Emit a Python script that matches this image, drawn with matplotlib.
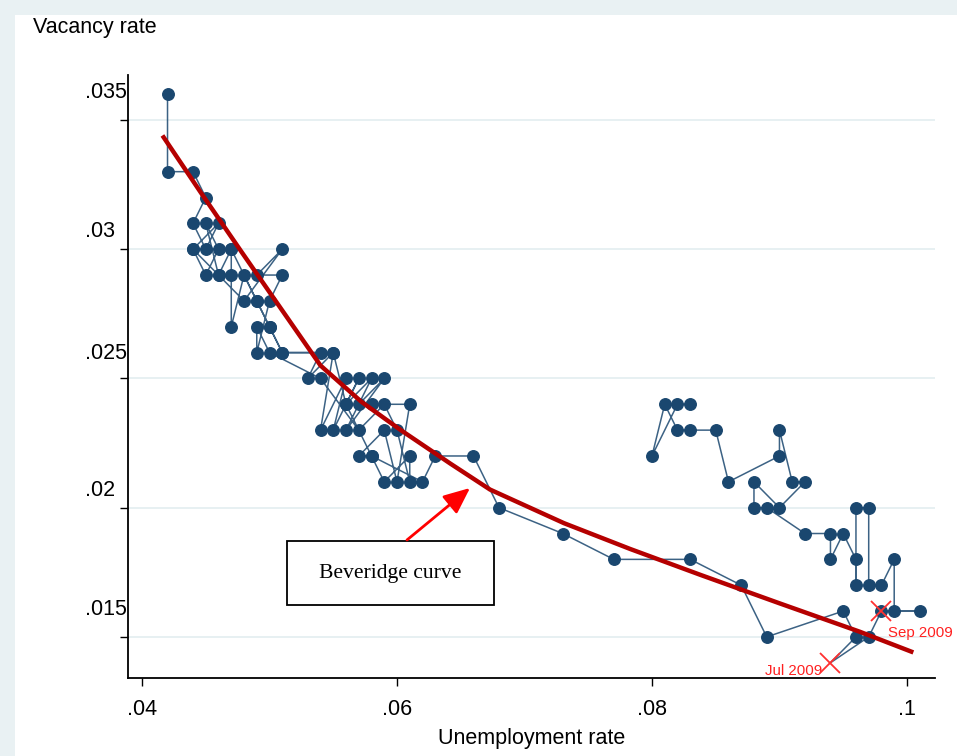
import matplotlib.pyplot as plt
from matplotlib.patches import Rectangle

# monthly unemployment / vacancy rates (path order)
unemp = [0.042, 0.042, 0.044, 0.045, 0.044, 0.045, 0.046, 0.044, 0.045, 0.046,
         0.045, 0.046, 0.047, 0.047, 0.047, 0.048, 0.049, 0.050, 0.051, 0.054,
         0.053, 0.055, 0.054, 0.056, 0.055, 0.057, 0.056, 0.058, 0.056, 0.059,
         0.057, 0.058, 0.061, 0.060, 0.059, 0.057, 0.058, 0.059, 0.061, 0.061,
         0.060, 0.059, 0.057, 0.054, 0.050, 0.049, 0.049, 0.050, 0.051, 0.049,
         0.051, 0.048, 0.046, 0.044, 0.047, 0.049, 0.050, 0.051, 0.055, 0.056,
         0.058, 0.062, 0.063, 0.066, 0.068, 0.073, 0.077, 0.083, 0.087, 0.089,
         0.095, 0.096, 0.094, 0.097, 0.098, 0.101, 0.099, 0.099, 0.098, 0.097,
         0.097, 0.096, 0.096, 0.096, 0.095, 0.094, 0.094, 0.092, 0.089, 0.088,
         0.088, 0.090, 0.092, 0.091, 0.090, 0.090, 0.086, 0.085, 0.083, 0.082,
         0.081, 0.080, 0.082, 0.083]
vacancy = [0.036, 0.033, 0.033, 0.032, 0.031, 0.030, 0.031, 0.030, 0.029, 0.030,
           0.031, 0.029, 0.030, 0.029, 0.027, 0.029, 0.028, 0.027, 0.026, 0.026,
           0.025, 0.026, 0.023, 0.025, 0.023, 0.025, 0.024, 0.025, 0.023, 0.025,
           0.024, 0.024, 0.024, 0.021, 0.023, 0.022, 0.022, 0.021, 0.022, 0.021,
           0.023, 0.024, 0.023, 0.025, 0.026, 0.027, 0.026, 0.028, 0.029, 0.029,
           0.030, 0.028, 0.029, 0.030, 0.030, 0.028, 0.027, 0.026, 0.026, 0.024,
           0.022, 0.021, 0.022, 0.022, 0.020, 0.019, 0.018, 0.018, 0.017, 0.015,
           0.016, 0.015, 0.014, 0.015, 0.016, 0.016, 0.016, 0.018, 0.017, 0.017,
           0.020, 0.020, 0.017, 0.018, 0.019, 0.018, 0.019, 0.019, 0.020, 0.020,
           0.021, 0.020, 0.021, 0.021, 0.023, 0.022, 0.021, 0.023, 0.023, 0.023,
           0.024, 0.022, 0.024, 0.024]

# fitted Beveridge curve
curve_u = [0.0416, 0.0446, 0.0478, 0.0509, 0.0540, 0.0572, 0.0603, 0.0642,
           0.0673, 0.0731, 0.0783, 0.0838, 0.0900, 0.0963, 0.1005]
curve_v = [0.0344, 0.0322, 0.0299, 0.0277, 0.0255, 0.0241, 0.0230, 0.0217,
           0.0207, 0.0194, 0.0184, 0.0174, 0.0163, 0.0152, 0.0144]

# highlighted months
mark_u = [0.094, 0.098]
mark_v = [0.014, 0.016]
mark_labels = ['Jul 2009', 'Sep 2009']

xticks = [0.04, 0.06, 0.08, 0.10]
xticklabels = ['.04', '.06', '.08', '.1']
yticks = [0.015, 0.02, 0.025, 0.03, 0.035]
yticklabels = ['.015', '.02', '.025', '.03', '.035']

navy = '#1a476f'
sans = ['Liberation Sans', 'DejaVu Sans']

fig = plt.figure(figsize=(9.57, 7.56), dpi=100, facecolor='#e9f1f3')
# white panel inside the light frame
fig.patches.append(Rectangle((15 / 957, 0), 1, 741 / 756, transform=fig.transFigure,
                             facecolor='white', edgecolor='none', zorder=-1))

ax = fig.add_axes([128 / 957, 78 / 756, 807 / 957, 603 / 756])
ax.set_facecolor('white')

# connected scatter (the Jul 2009 month is drawn as a cross only)
ax.plot(unemp, vacancy, '-', color=navy, lw=1.1, alpha=0.85, zorder=2)
dots = [(u, v) for u, v in zip(unemp, vacancy) if (u, v) != (mark_u[0], mark_v[0])]
ax.plot([d[0] for d in dots], [d[1] for d in dots], 'o', color=navy, ms=8.3,
        mec=navy, ls='none', zorder=3)

# Beveridge curve
ax.plot(curve_u, curve_v, '-', color='#b50000', lw=3.2, solid_capstyle='butt', zorder=4)

# red crosses with dates
ax.plot(mark_u, mark_v, 'x', color='#ff3030', ms=14, mew=1.3, ls='none', zorder=5)
ax.annotate(mark_labels[0], (mark_u[0], mark_v[0]), xytext=(-6, -6),
            textcoords='offset points', ha='right', va='center',
            color='#ff2020', fontsize=10.8, family=sans)
ax.annotate(mark_labels[1], (mark_u[1], mark_v[1]), xytext=(5, -16),
            textcoords='offset points', ha='left', va='center',
            color='#ff2020', fontsize=10.8, family=sans)

# label box and arrow
ax.add_patch(Rectangle((0.197, 0.121), 0.2565, 0.106, transform=ax.transAxes,
                       facecolor='white', edgecolor='black', lw=1.3, zorder=6))
ax.text(0.3247, 0.174, 'Beveridge curve', transform=ax.transAxes, ha='center',
        va='center', fontsize=15.6, family=['Liberation Serif', 'DejaVu Serif'], zorder=7)
ax.annotate('', xy=(0.4238, 0.3151), xytext=(0.3457, 0.2289),
            xycoords='axes fraction', textcoords='axes fraction',
            arrowprops=dict(arrowstyle='-|>,head_length=1.6,head_width=0.7',
                            color='#ff0000', lw=2, shrinkA=0, shrinkB=0), zorder=7)

ax.set_xlim(0.0389, 0.1022)
ax.set_ylim(0.01341, 0.03674)

ax.set_xticks(xticks)
ax.set_xticklabels(xticklabels, family=sans, fontsize=15.5)
ax.set_yticks(yticks)
ax.set_yticklabels([])
ax.tick_params(axis='both', direction='out', length=6, width=1.0, color='black')
ax.tick_params(axis='x', pad=9)

# y tick labels sit a little above their ticks
shift = [30, 20, 28, 20, 30]
for t, lab, s in zip(yticks, yticklabels, shift):
    ax.annotate(lab, (-43 / 807, t), xycoords=('axes fraction', 'data'),
                xytext=(0, s * 0.72 - 2), textcoords='offset points',
                ha='left', va='center', fontsize=15.5, family=sans, annotation_clip=False)

ax.yaxis.grid(True, color='#e3edf0', lw=1.2)
ax.set_axisbelow(True)

for side in ['top', 'right']:
    ax.spines[side].set_visible(False)
for side in ['left', 'bottom']:
    ax.spines[side].set_linewidth(1.3)
    ax.spines[side].set_color('black')

ax.set_xlabel('Unemployment rate', family=sans, fontsize=15.5, labelpad=6)
fig.text(33 / 957, 1 - 27 / 756, 'Vacancy rate', ha='left', va='center',
         fontsize=15.5, family=sans)

fig.savefig('out.png', dpi=100, facecolor=fig.get_facecolor())
